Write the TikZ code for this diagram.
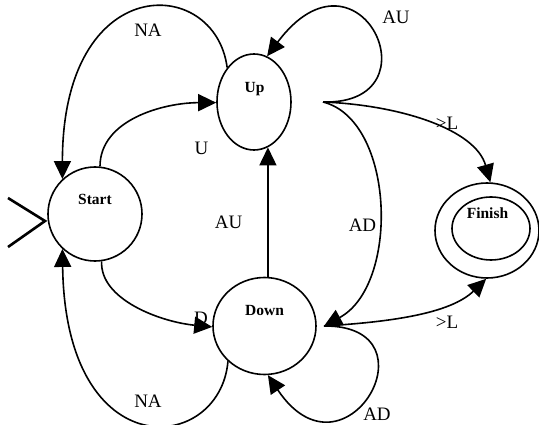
\documentclass[tikz,border=0pt]{standalone}
\usepackage{fontspec}
\setmainfont{Liberation Serif}
\usetikzlibrary{shapes.geometric,arrows.meta,calc}

\begin{document}
\begin{tikzpicture}[x=1pt,y=-1pt,
  state/.style={ellipse,draw,line width=1.6pt,inner sep=0pt},
  statename/.style={font=\fontsize{15.5}{16}\selectfont\bfseries,anchor=base,inner sep=0pt},
  trans/.style={draw,line width=1.6pt,-{Triangle[length=18pt,width=17pt]}},
  tlabel/.style={font=\fontsize{19}{20}\selectfont,anchor=base,inner sep=0pt}]

\path[use as bounding box] (0,0) rectangle (539,425);

% states
\node[state,minimum width=94pt,minimum height=94pt] (start) at (95,214) {};
\node[state,minimum width=74pt,minimum height=96pt] (up) at (254,102) {};
\node[state,minimum width=103pt,minimum height=97pt] (down) at (264.5,326) {};
\node[state,minimum width=104pt,minimum height=95pt] (finish) at (487,230.5) {};
\node[state,minimum width=78pt,minimum height=63pt] (finishin) at (491,228.5) {};

\node[statename] (startname) at (95,205) {Start};
\node[statename] (upname) at (254.5,92.7) {Up};
\node[statename] (downname) at (264.5,316) {Down};
\node[statename] (finishname) at (487.5,219) {Finish};

% shared start points of the outgoing transitions
\coordinate (uphook) at (323,102);
\coordinate (downhook) at (324,326);

% initial marker
\coordinate (inittip) at (45,221);
\draw[line width=2.6pt] ($(inittip)+(-37,-23)$) -- (inittip) -- ($(inittip)+(-37,26)$);

% transitions
\draw[trans] (up.128) .. controls +(-12,-93) and +(0,-209) .. (start.133);
\draw[trans] (start.84) .. controls +(0,-47) and +(-52,0) .. (up.181);
\draw[trans] (uphook) .. controls +(117,3) and +(92,-123) .. (up.74);
\draw[trans] (uphook) .. controls +(77,3) and +(-15,-53) .. (finish.86);
\draw[trans] (uphook) .. controls +(72,18) and +(76,-41) .. (downhook);
\draw[trans] (downhook) .. controls +(66,-4) and +(-36,35) .. (finish.269);
\draw[trans] (downhook) .. controls +(116,-1) and +(77,115) .. (down.274);
\draw[trans] (down.224) .. controls +(-8,93) and +(3,220) .. (start.227);
\draw[trans] (start.278) .. controls +(-2,38) and +(-52,-5) .. (down.181);
\draw[trans] (down.86) -- (down.86 |- up.287);

% transition labels
\node[tlabel] (lna1) at (148,36.7) {NA};
\node[tlabel] (lau1) at (396,24) {AU};
\node[tlabel] (lu) at (201.5,155) {U};
\node[tlabel] (lau2) at (228.6,228.3) {AU};
\node[tlabel] (ll1) at (447,130) {>L};
\node[tlabel] (lad1) at (362.5,232) {AD};
\node[tlabel] (ld) at (201,325) {D};
\node[tlabel] (ll2) at (447,328) {>L};
\node[tlabel] (lna2) at (148,407) {NA};
\node[tlabel] (lad2) at (377,420) {AD};
\end{tikzpicture}
\end{document}
